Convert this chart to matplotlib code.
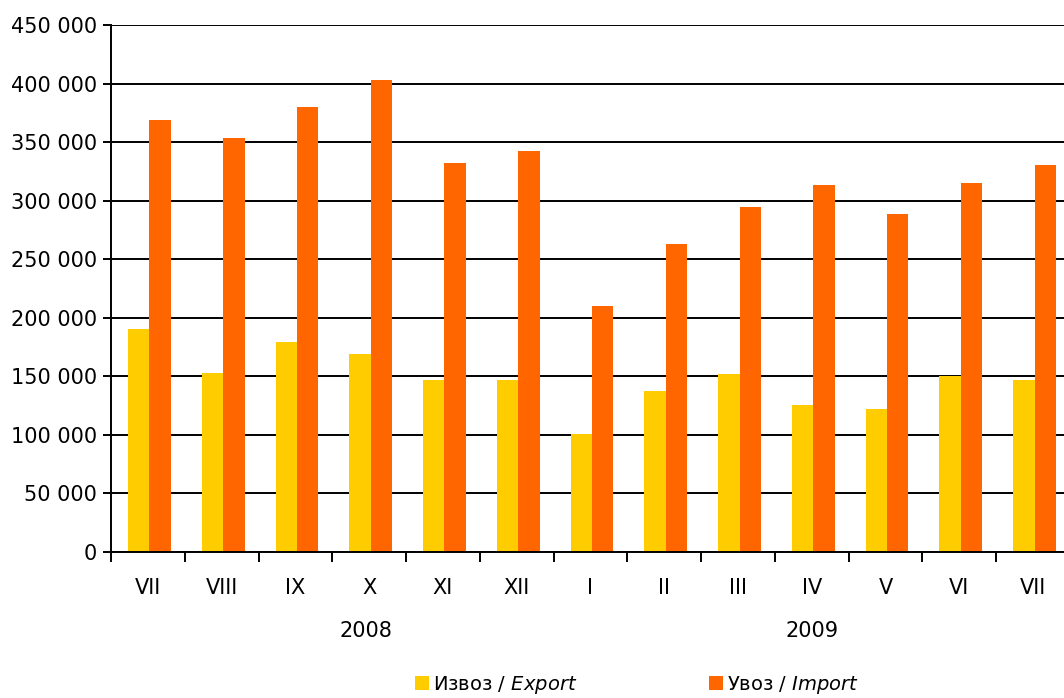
import matplotlib
matplotlib.use("Agg")
import matplotlib.pyplot as plt
from matplotlib.ticker import FuncFormatter, MultipleLocator
import numpy as np

# Monthly export / import values, Jul 2008 - Jul 2009
months = ["VII", "VIII", "IX", "X", "XI", "XII", "I", "II", "III", "IV", "V", "VI", "VII"]
export_vals = [190400, 152900, 179300, 169100, 146900, 146900,
               100800, 137500, 152000, 125500, 122100, 150300, 146900]
import_vals = [368900, 353500, 380000, 403000, 332200, 342400,
               210000, 263000, 294600, 313400, 288600, 315100, 330500]
years = ["2008", "2009"]
year_pos = [2.95, 9.0]

plt.rcParams['font.family'] = ['DejaVu Sans']
plt.rcParams['mathtext.fontset'] = 'dejavusans'

fig = plt.figure(figsize=(10.64, 6.98), dpi=100)
W, H = 1064, 698
ax = fig.add_axes([111 / W, 146 / H, 959 / W, 527 / H])

x = np.arange(len(months))
bw = 0.29
off = 0.02
ax.bar(x - bw / 2 + off, export_vals, bw, color="#FFCC00", label=r"Извоз $\it{/\ Export}$", zorder=3)
ax.bar(x + bw / 2 + off, import_vals, bw, color="#FF6600", label=r"Увоз $\it{/\ Import}$", zorder=3)

ax.set_xlim(-0.5, len(months) - 0.5)
ax.set_ylim(0, 450000)
ax.yaxis.set_major_locator(MultipleLocator(50000))
ax.yaxis.set_major_formatter(FuncFormatter(lambda v, p: f"{int(v):,}".replace(",", " ")))
ax.grid(axis="y", color="black", linewidth=1.4, zorder=1)

ax.set_xticks(x)
ax.set_xticklabels(months)
ax.set_xticks(np.arange(-0.5, len(months), 1), minor=True)
ax.tick_params(axis="x", which="major", length=0, pad=19, labelsize=15)
ax.tick_params(axis="x", which="minor", length=7, width=1.4, direction="out")
ax.tick_params(axis="y", length=6, width=1.4, pad=4, labelsize=15)

for s in ["top", "right"]:
    ax.spines[s].set_visible(False)
for s in ["left", "bottom"]:
    ax.spines[s].set_linewidth(1.4)
    ax.spines[s].set_zorder(4)

for yr, pos in zip(years, year_pos):
    ax.text(pos, -0.15, yr, transform=ax.get_xaxis_transform(),
            ha="center", va="center", fontsize=15)

ax.legend(loc="center", bbox_to_anchor=(637 / W, 13 / H), bbox_transform=fig.transFigure,
          ncol=2, frameon=False, fontsize=14, handlelength=0.7, handleheight=0.7,
          handletextpad=0.2, columnspacing=6.8)

fig.savefig("out.png", dpi=100)
